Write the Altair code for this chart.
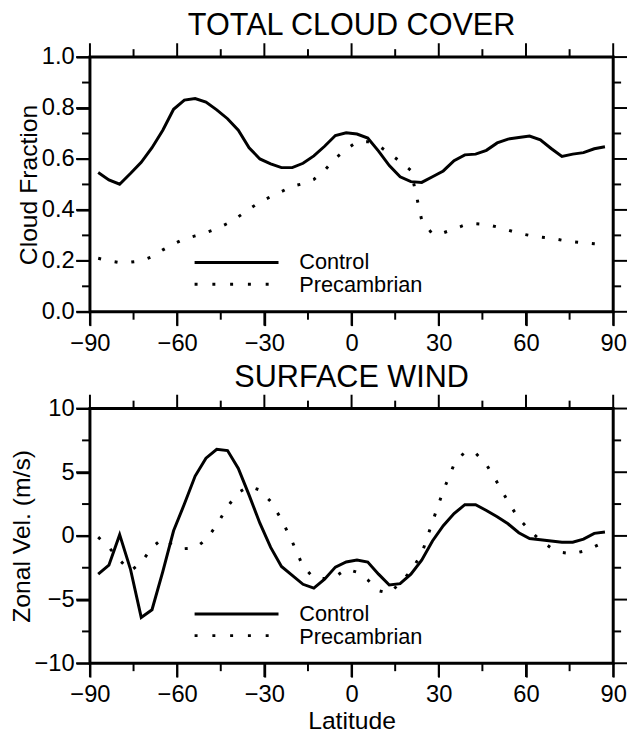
import altair as alt
import pandas as pd

# Gaussian-grid latitudes (48 rows)
lats = [-87.16, -83.48, -79.78, -76.07, -72.36, -68.65, -64.94, -61.23, -57.52, -53.81,
        -50.09, -46.38, -42.67, -38.96, -35.25, -31.54, -27.83, -24.12, -20.41, -16.70,
        -12.98, -9.28, -5.57, -1.86, 1.86, 5.57, 9.28, 12.98, 16.70, 20.41,
        24.12, 27.83, 31.54, 35.25, 38.96, 42.67, 46.38, 50.09, 53.81, 57.52,
        61.23, 64.94, 68.65, 72.36, 76.07, 79.78, 83.48, 87.16]

series_names = ["Control", "Precambrian"]

cloud_control = [0.547, 0.518, 0.501, 0.543, 0.587, 0.644, 0.713, 0.795, 0.831, 0.837,
                 0.823, 0.793, 0.758, 0.713, 0.644, 0.600, 0.581, 0.566, 0.566, 0.583,
                 0.612, 0.650, 0.692, 0.703, 0.698, 0.682, 0.631, 0.574, 0.530, 0.511,
                 0.508, 0.530, 0.553, 0.593, 0.616, 0.619, 0.634, 0.663, 0.678, 0.684,
                 0.690, 0.675, 0.641, 0.610, 0.619, 0.625, 0.640, 0.648]
cloud_precambrian = [0.210, 0.200, 0.193, 0.195, 0.200, 0.216, 0.243, 0.266, 0.286, 0.298,
                     0.311, 0.326, 0.347, 0.373, 0.403, 0.431, 0.452, 0.472, 0.493, 0.503,
                     0.520, 0.555, 0.602, 0.638, 0.667, 0.668, 0.652, 0.622, 0.590, 0.555,
                     0.360, 0.305, 0.310, 0.325, 0.341, 0.346, 0.343, 0.333, 0.321, 0.308,
                     0.300, 0.293, 0.289, 0.281, 0.275, 0.271, 0.267, 0.263]

wind_control = [-3.0, -2.3, 0.1, -2.6, -6.4, -5.8, -2.8, 0.4, 2.5, 4.7,
                6.1, 6.8, 6.7, 5.3, 3.2, 1.0, -0.9, -2.4, -3.1, -3.8,
                -4.1, -3.4, -2.45, -2.05, -1.9, -2.05, -3.0, -3.85, -3.75, -3.0,
                -1.9, -0.4, 0.8, 1.75, 2.45, 2.45, 2.0, 1.5, 0.95, 0.25,
                -0.2, -0.3, -0.4, -0.5, -0.5, -0.25, 0.2, 0.3]
wind_precambrian = [-0.1, -0.9, -1.9, -2.75, -2.1, -0.9, -0.2, -0.75, -1.0, -0.95,
                    -0.3, 0.85, 2.3, 3.4, 3.9, 3.6, 2.7, 1.3, -0.45, -2.4,
                    -3.3, -3.35, -3.2, -2.6, -2.85, -3.45, -4.3, -4.5, -3.7, -2.75,
                    -1.4, 1.1, 3.55, 5.6, 6.6, 6.5, 5.6, 4.2, 2.7, 1.35,
                    0.45, -0.35, -0.95, -1.3, -1.4, -1.2, -0.85, -0.45]

x_major = [-90, -60, -30, 0, 30, 60, 90]
x_minor = [-75, -45, -15, 15, 45, 75]
cloud_major = [0.0, 0.2, 0.4, 0.6, 0.8, 1.0]
cloud_minor = [0.1, 0.3, 0.5, 0.7, 0.9]
wind_major = [-10, -5, 0, 5, 10]
wind_minor = [-7.5, -2.5, 2.5, 7.5]

W, H = 530, 258
FONT = "Liberation Sans"
LBL = 24
MAJ, MIN = 14, 8


def panel(title, ytitle, yvals_c, yvals_p, ydomain, ymaj, ymin, yfmt, xtitle):
    df = pd.DataFrame({
        "lat": lats * 2,
        "val": yvals_c + yvals_p,
        "series": [series_names[0]] * len(lats) + [series_names[1]] * len(lats),
    })
    xs = alt.Scale(domain=[-90, 90], nice=False, zero=False)
    ys = alt.Scale(domain=ydomain, nice=False, zero=False)

    # major ticks drawn by the axes themselves
    xaxis = alt.Axis(values=x_major, format="d", ticks=True, tickSize=MAJ, tickWidth=2,
                     tickColor="black", domain=False, grid=False,
                     labelPadding=6, labelFontSize=LBL, labelFont=FONT,
                     labelColor="black", labelFlush=False, labelOverlap=False,
                     title=xtitle, titleFontSize=25, titleFont=FONT,
                     titleFontWeight="normal", titleColor="black", titlePadding=2)
    yaxis = alt.Axis(values=ymaj, format=yfmt, ticks=True, tickSize=MAJ, tickWidth=2,
                     tickColor="black", domain=False, grid=False,
                     labelPadding=2, labelFontSize=LBL, labelFont=FONT,
                     labelColor="black", labelFlush=False, labelOverlap=False,
                     title=ytitle, titleFontSize=25, titleFont=FONT,
                     titleFontWeight="normal", titleColor="black", titlePadding=0)

    base = alt.Chart(df)
    control = base.transform_filter(alt.datum.series == series_names[0]).mark_line(
        color="black", strokeWidth=3
    ).encode(x=alt.X("lat:Q", scale=xs, axis=xaxis), y=alt.Y("val:Q", scale=ys, axis=yaxis))
    precam = base.transform_filter(alt.datum.series == series_names[1]).mark_line(
        color="black", strokeWidth=3, strokeDash=[3, 14], strokeCap="butt"
    ).encode(x=alt.X("lat:Q", scale=xs, axis=None), y=alt.Y("val:Q", scale=ys, axis=None))

    # remaining tick marks (minor ticks, and the top and right sides)
    tick_layers = []
    for vals, L in ((x_major, MAJ), (x_minor, MIN)):
        d = alt.Chart(pd.DataFrame({"tv": vals}))
        xe = alt.X("tv:Q", scale=xs, axis=None)
        tick_layers.append(d.mark_rule(color="black", strokeWidth=2).encode(
            x=xe, y=alt.value(H), y2=alt.value(H + L)))
        tick_layers.append(d.mark_rule(color="black", strokeWidth=2).encode(
            x=xe, y=alt.value(0), y2=alt.value(-L)))
    for vals, L in ((ymaj, MAJ), (ymin, MIN)):
        d = alt.Chart(pd.DataFrame({"tv": vals}))
        ye = alt.Y("tv:Q", scale=ys, axis=None)
        tick_layers.append(d.mark_rule(color="black", strokeWidth=2).encode(
            y=ye, x=alt.value(0), x2=alt.value(-L)))
        tick_layers.append(d.mark_rule(color="black", strokeWidth=2).encode(
            y=ye, x=alt.value(W), x2=alt.value(W + L)))

    leg_df = pd.DataFrame({"series": series_names})
    one = alt.Chart(leg_df).transform_filter(alt.datum.series == series_names[0])
    two = alt.Chart(leg_df).transform_filter(alt.datum.series == series_names[1])
    frame = one.mark_rect(fill="transparent", stroke="black", strokeWidth=3).encode(
        x=alt.value(0), x2=alt.value(W), y=alt.value(0), y2=alt.value(H))
    leg_line = one.mark_rule(color="black", strokeWidth=3).encode(
        x=alt.value(106), x2=alt.value(191), y=alt.value(208))
    leg_dots = two.mark_rule(color="black", strokeWidth=3, strokeDash=[3, 15], strokeCap="butt").encode(
        x=alt.value(106), x2=alt.value(184), y=alt.value(230))
    leg_t1 = one.mark_text(align="left", baseline="middle", fontSize=22, font=FONT,
                           color="black").encode(x=alt.value(212), y=alt.value(208), text="series:N")
    leg_t2 = two.mark_text(align="left", baseline="middle", fontSize=22, font=FONT,
                           color="black").encode(x=alt.value(212), y=alt.value(231), text="series:N")

    return alt.layer(control, precam, *tick_layers, frame, leg_line, leg_dots, leg_t1, leg_t2).resolve_scale(
        x="independent", y="independent"
    ).resolve_axis(
        x="independent", y="independent"
    ).properties(
        width=W, height=H,
        title=alt.TitleParams(title, fontSize=31, font=FONT, fontWeight="normal",
                              color="black", anchor="middle", offset=0),
    )


top = panel("TOTAL CLOUD COVER", "Cloud Fraction", cloud_control, cloud_precambrian,
            [0, 1], cloud_major, cloud_minor, ".1f", None)
bottom = panel("SURFACE WIND", "Zonal Vel. (m/s)", wind_control, wind_precambrian,
               [-10, 10], wind_major, wind_minor, "d", "Latitude")

chart = alt.vconcat(top, bottom, spacing=5).properties(
    padding={"left": 0, "top": -3, "right": 0, "bottom": 0},
    background="white",
)

chart.save("out.html", embed_options={"renderer": "svg", "actions": False})
